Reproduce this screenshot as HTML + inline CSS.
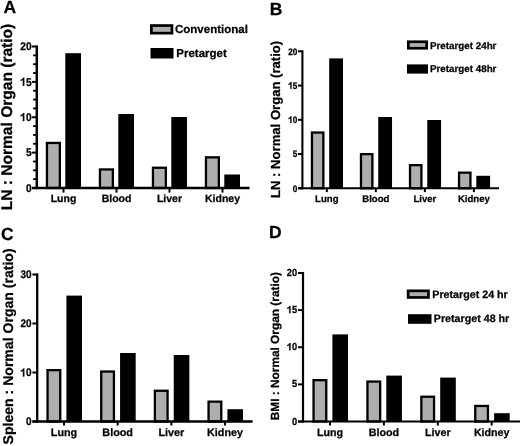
<!DOCTYPE html>
<html><head><meta charset="utf-8"><title>Figure</title>
<style>
html,body{margin:0;padding:0;background:#fff;}
body{width:520px;height:446px;overflow:hidden;}
svg{display:block;filter:blur(0.3px) grayscale(1);font-family:"Liberation Sans",sans-serif;font-weight:bold;}
text{stroke:#000;stroke-width:0.25px;text-rendering:geometricPrecision;}
</style></head>
<body>
<svg width="520" height="446" viewBox="0 0 520 446">
<rect x="0" y="0" width="520" height="446" fill="#fff"/>
<text x="3.6" y="12.6" font-size="17.5" text-anchor="start" >A</text>
<text transform="translate(11.8,117.0) rotate(-90)" font-size="15.5" text-anchor="middle" textLength="186.5" lengthAdjust="spacingAndGlyphs">LN : Normal Organ (ratio)</text>
<rect x="46.95" y="142.95" width="12.90" height="45.05" fill="#aeaeae" stroke="#000" stroke-width="2.3"/>
<rect x="65.30" y="53.20" width="15.70" height="134.80" fill="#000"/>
<line x1="63.5" y1="188.0" x2="63.5" y2="192.6" stroke="#000" stroke-width="2.0"/>
<text x="63.50" y="201.6" font-size="10.5" text-anchor="middle" >Lung</text>
<rect x="99.95" y="169.45" width="12.90" height="18.55" fill="#aeaeae" stroke="#000" stroke-width="2.3"/>
<rect x="118.30" y="114.00" width="15.70" height="74.00" fill="#000"/>
<line x1="116.5" y1="188.0" x2="116.5" y2="192.6" stroke="#000" stroke-width="2.0"/>
<text x="116.50" y="201.6" font-size="10.5" text-anchor="middle" >Blood</text>
<rect x="152.95" y="167.75" width="12.90" height="20.25" fill="#aeaeae" stroke="#000" stroke-width="2.3"/>
<rect x="171.30" y="117.00" width="15.70" height="71.00" fill="#000"/>
<line x1="169.5" y1="188.0" x2="169.5" y2="192.6" stroke="#000" stroke-width="2.0"/>
<text x="169.50" y="201.6" font-size="10.5" text-anchor="middle" >Liver</text>
<rect x="205.95" y="157.35" width="12.90" height="30.65" fill="#aeaeae" stroke="#000" stroke-width="2.3"/>
<rect x="224.30" y="174.50" width="15.70" height="13.50" fill="#000"/>
<line x1="222.5" y1="188.0" x2="222.5" y2="192.6" stroke="#000" stroke-width="2.0"/>
<text x="222.50" y="201.6" font-size="10.5" text-anchor="middle" >Kidney</text>
<line x1="36.8" y1="45.45" x2="36.8" y2="189.15" stroke="#000" stroke-width="2.5"/>
<line x1="32.0" y1="188.0" x2="249.5" y2="188.0" stroke="#000" stroke-width="2.5"/>
<line x1="32.0" y1="188.0" x2="36.8" y2="188.0" stroke="#000" stroke-width="2.0"/>
<g transform="translate(31.60,191.80) scale(1.0,1.1)">
<text x="0" y="0" font-size="10.2" text-anchor="end" >0</text>
</g>
<line x1="32.0" y1="152.625" x2="36.8" y2="152.625" stroke="#000" stroke-width="2.0"/>
<g transform="translate(31.60,156.43) scale(1.0,1.1)">
<text x="0" y="0" font-size="10.2" text-anchor="end" >5</text>
</g>
<line x1="32.0" y1="117.25" x2="36.8" y2="117.25" stroke="#000" stroke-width="2.0"/>
<g transform="translate(31.60,121.05) scale(1.0,1.1)">
<path transform="translate(-11.35,0) scale(0.01020,-0.01020)" d="M393 0L393 716L300 716Q270 650 200 605Q130 560 45 535L45 410Q105 430 160 458Q215 486 253 520L253 0Z" fill="#000" stroke="#000" stroke-width="24.5"/>
<text x="0" y="0" font-size="10.2" text-anchor="end" >0</text>
</g>
<line x1="32.0" y1="81.875" x2="36.8" y2="81.875" stroke="#000" stroke-width="2.0"/>
<g transform="translate(31.60,85.67) scale(1.0,1.1)">
<path transform="translate(-11.35,0) scale(0.01020,-0.01020)" d="M393 0L393 716L300 716Q270 650 200 605Q130 560 45 535L45 410Q105 430 160 458Q215 486 253 520L253 0Z" fill="#000" stroke="#000" stroke-width="24.5"/>
<text x="0" y="0" font-size="10.2" text-anchor="end" >5</text>
</g>
<line x1="32.0" y1="46.5" x2="36.8" y2="46.5" stroke="#000" stroke-width="2.0"/>
<g transform="translate(31.60,50.30) scale(1.0,1.1)">
<text x="0" y="0" font-size="10.2" text-anchor="end" >20</text>
</g>
<line x1="33.0" y1="179.15625" x2="36.8" y2="179.15625" stroke="#000" stroke-width="1.8"/>
<line x1="33.0" y1="170.3125" x2="36.8" y2="170.3125" stroke="#000" stroke-width="1.8"/>
<line x1="33.0" y1="161.46875" x2="36.8" y2="161.46875" stroke="#000" stroke-width="1.8"/>
<line x1="33.0" y1="143.78125" x2="36.8" y2="143.78125" stroke="#000" stroke-width="1.8"/>
<line x1="33.0" y1="134.9375" x2="36.8" y2="134.9375" stroke="#000" stroke-width="1.8"/>
<line x1="33.0" y1="126.09375" x2="36.8" y2="126.09375" stroke="#000" stroke-width="1.8"/>
<line x1="33.0" y1="108.40625" x2="36.8" y2="108.40625" stroke="#000" stroke-width="1.8"/>
<line x1="33.0" y1="99.5625" x2="36.8" y2="99.5625" stroke="#000" stroke-width="1.8"/>
<line x1="33.0" y1="90.71875" x2="36.8" y2="90.71875" stroke="#000" stroke-width="1.8"/>
<line x1="33.0" y1="73.03125" x2="36.8" y2="73.03125" stroke="#000" stroke-width="1.8"/>
<line x1="33.0" y1="64.1875" x2="36.8" y2="64.1875" stroke="#000" stroke-width="1.8"/>
<line x1="33.0" y1="55.34375" x2="36.8" y2="55.34375" stroke="#000" stroke-width="1.8"/>
<rect x="151.35" y="25.55" width="20.60" height="7.60" fill="#aeaeae" stroke="#000" stroke-width="2.7"/>
<text x="175.0" y="33.3" font-size="11.5" text-anchor="start" >Conventional</text>
<rect x="150.5" y="48.0" width="23.00" height="10.50" fill="#000"/>
<text x="176.3" y="57.0" font-size="11.5" text-anchor="start" >Pretarget</text>
<text x="269.8" y="14.9" font-size="17.5" text-anchor="start" >B</text>
<text transform="translate(279.9,119.4) rotate(-90)" font-size="13.1" text-anchor="middle" textLength="157.2" lengthAdjust="spacingAndGlyphs">LN : Normal Organ (ratio)</text>
<rect x="311.95" y="132.55" width="11.40" height="55.75" fill="#aeaeae" stroke="#000" stroke-width="2.3"/>
<rect x="329.20" y="58.40" width="13.80" height="129.90" fill="#000"/>
<line x1="326.8" y1="188.3" x2="326.8" y2="192.10000000000002" stroke="#000" stroke-width="2.0"/>
<text x="326.80" y="201.6" font-size="9.6" text-anchor="middle" >Lung</text>
<rect x="360.98" y="154.15" width="11.40" height="34.15" fill="#aeaeae" stroke="#000" stroke-width="2.3"/>
<rect x="378.23" y="117.00" width="13.80" height="71.30" fill="#000"/>
<line x1="375.83000000000004" y1="188.3" x2="375.83000000000004" y2="192.10000000000002" stroke="#000" stroke-width="2.0"/>
<text x="375.83" y="201.6" font-size="9.6" text-anchor="middle" >Blood</text>
<rect x="410.01" y="165.15" width="11.40" height="23.15" fill="#aeaeae" stroke="#000" stroke-width="2.3"/>
<rect x="427.26" y="120.00" width="13.80" height="68.30" fill="#000"/>
<line x1="424.86" y1="188.3" x2="424.86" y2="192.10000000000002" stroke="#000" stroke-width="2.0"/>
<text x="424.86" y="201.6" font-size="9.6" text-anchor="middle" >Liver</text>
<rect x="459.04" y="172.65" width="11.40" height="15.65" fill="#aeaeae" stroke="#000" stroke-width="2.3"/>
<rect x="476.29" y="175.80" width="13.80" height="12.50" fill="#000"/>
<line x1="473.89" y1="188.3" x2="473.89" y2="192.10000000000002" stroke="#000" stroke-width="2.0"/>
<text x="473.89" y="201.6" font-size="9.6" text-anchor="middle" >Kidney</text>
<line x1="302.4" y1="50.250000000000014" x2="302.4" y2="189.45000000000002" stroke="#000" stroke-width="2.1"/>
<line x1="298.0" y1="188.3" x2="499.0" y2="188.3" stroke="#000" stroke-width="2.1"/>
<line x1="298.0" y1="188.3" x2="302.4" y2="188.3" stroke="#000" stroke-width="2.0"/>
<g transform="translate(297.40,191.50) scale(0.97,1.1)">
<text x="0" y="0" font-size="8.5" text-anchor="end" >0</text>
</g>
<line x1="298.0" y1="154.05" x2="302.4" y2="154.05" stroke="#000" stroke-width="2.0"/>
<g transform="translate(297.40,157.25) scale(0.97,1.1)">
<text x="0" y="0" font-size="8.5" text-anchor="end" >5</text>
</g>
<line x1="298.0" y1="119.80000000000001" x2="302.4" y2="119.80000000000001" stroke="#000" stroke-width="2.0"/>
<g transform="translate(297.40,123.00) scale(0.97,1.1)">
<path transform="translate(-9.45,0) scale(0.00850,-0.00850)" d="M393 0L393 716L300 716Q270 650 200 605Q130 560 45 535L45 410Q105 430 160 458Q215 486 253 520L253 0Z" fill="#000" stroke="#000" stroke-width="29.4"/>
<text x="0" y="0" font-size="8.5" text-anchor="end" >0</text>
</g>
<line x1="298.0" y1="85.55000000000001" x2="302.4" y2="85.55000000000001" stroke="#000" stroke-width="2.0"/>
<g transform="translate(297.40,88.75) scale(0.97,1.1)">
<path transform="translate(-9.45,0) scale(0.00850,-0.00850)" d="M393 0L393 716L300 716Q270 650 200 605Q130 560 45 535L45 410Q105 430 160 458Q215 486 253 520L253 0Z" fill="#000" stroke="#000" stroke-width="29.4"/>
<text x="0" y="0" font-size="8.5" text-anchor="end" >5</text>
</g>
<line x1="298.0" y1="51.30000000000001" x2="302.4" y2="51.30000000000001" stroke="#000" stroke-width="2.0"/>
<g transform="translate(297.40,54.50) scale(0.97,1.1)">
<text x="0" y="0" font-size="8.5" text-anchor="end" >20</text>
</g>
<rect x="408.35" y="41.75" width="18.30" height="6.50" fill="#aeaeae" stroke="#000" stroke-width="2.7"/>
<text x="430.0" y="48.6" font-size="9.8" text-anchor="start" >Pretarget 24hr</text>
<rect x="407.0" y="64.4" width="21.00" height="9.20" fill="#000"/>
<text x="430.0" y="72.4" font-size="9.8" text-anchor="start" >Pretarget 48hr</text>
<text x="0.9" y="239.6" font-size="17.5" text-anchor="start" >C</text>
<text transform="translate(12.7,346.4) rotate(-90)" font-size="14" text-anchor="middle" textLength="196" lengthAdjust="spacingAndGlyphs">Spleen : Normal Organ (ratio)</text>
<rect x="47.55" y="370.15" width="12.70" height="51.35" fill="#aeaeae" stroke="#000" stroke-width="2.3"/>
<rect x="66.40" y="295.60" width="15.60" height="125.90" fill="#000"/>
<line x1="64.0" y1="421.5" x2="64.0" y2="425.5" stroke="#000" stroke-width="2.0"/>
<text x="64.00" y="436.0" font-size="10.8" text-anchor="middle" >Lung</text>
<rect x="101.22" y="371.55" width="12.70" height="49.95" fill="#aeaeae" stroke="#000" stroke-width="2.3"/>
<rect x="120.07" y="353.00" width="15.60" height="68.50" fill="#000"/>
<line x1="117.67" y1="421.5" x2="117.67" y2="425.5" stroke="#000" stroke-width="2.0"/>
<text x="117.67" y="436.0" font-size="10.8" text-anchor="middle" >Blood</text>
<rect x="154.89" y="390.75" width="12.70" height="30.75" fill="#aeaeae" stroke="#000" stroke-width="2.3"/>
<rect x="173.74" y="355.00" width="15.60" height="66.50" fill="#000"/>
<line x1="171.34" y1="421.5" x2="171.34" y2="425.5" stroke="#000" stroke-width="2.0"/>
<text x="171.34" y="436.0" font-size="10.8" text-anchor="middle" >Liver</text>
<rect x="208.56" y="401.65" width="12.70" height="19.85" fill="#aeaeae" stroke="#000" stroke-width="2.3"/>
<rect x="227.41" y="409.20" width="15.60" height="12.30" fill="#000"/>
<line x1="225.01" y1="421.5" x2="225.01" y2="425.5" stroke="#000" stroke-width="2.0"/>
<text x="225.01" y="436.0" font-size="10.8" text-anchor="middle" >Kidney</text>
<line x1="37.2" y1="273.45000000000005" x2="37.2" y2="422.65" stroke="#000" stroke-width="2.3"/>
<line x1="32.4" y1="421.5" x2="252.6" y2="421.5" stroke="#000" stroke-width="2.3"/>
<line x1="32.4" y1="421.5" x2="37.2" y2="421.5" stroke="#000" stroke-width="2.0"/>
<g transform="translate(31.50,425.40) scale(1.0,1.1)">
<text x="0" y="0" font-size="10.0" text-anchor="end" >0</text>
</g>
<line x1="32.4" y1="372.5" x2="37.2" y2="372.5" stroke="#000" stroke-width="2.0"/>
<g transform="translate(31.50,376.40) scale(1.0,1.1)">
<path transform="translate(-11.12,0) scale(0.01000,-0.01000)" d="M393 0L393 716L300 716Q270 650 200 605Q130 560 45 535L45 410Q105 430 160 458Q215 486 253 520L253 0Z" fill="#000" stroke="#000" stroke-width="25.0"/>
<text x="0" y="0" font-size="10.0" text-anchor="end" >0</text>
</g>
<line x1="32.4" y1="323.5" x2="37.2" y2="323.5" stroke="#000" stroke-width="2.0"/>
<g transform="translate(31.50,327.40) scale(1.0,1.1)">
<text x="0" y="0" font-size="10.0" text-anchor="end" >20</text>
</g>
<line x1="32.4" y1="274.5" x2="37.2" y2="274.5" stroke="#000" stroke-width="2.0"/>
<g transform="translate(31.50,278.40) scale(1.0,1.1)">
<text x="0" y="0" font-size="10.0" text-anchor="end" >30</text>
</g>
<text x="269.0" y="237.9" font-size="17.5" text-anchor="start" >D</text>
<text transform="translate(279.0,346.2) rotate(-90)" font-size="11.8" text-anchor="middle" textLength="148.2" lengthAdjust="spacingAndGlyphs">BMI : Normal Organ (ratio)</text>
<rect x="313.55" y="380.15" width="12.70" height="41.35" fill="#aeaeae" stroke="#000" stroke-width="2.3"/>
<rect x="332.40" y="334.40" width="15.60" height="87.10" fill="#000"/>
<line x1="330.0" y1="421.5" x2="330.0" y2="425.5" stroke="#000" stroke-width="2.0"/>
<text x="330.00" y="436.0" font-size="10.7" text-anchor="middle" >Lung</text>
<rect x="367.45" y="381.55" width="12.70" height="39.95" fill="#aeaeae" stroke="#000" stroke-width="2.3"/>
<rect x="386.30" y="375.60" width="15.60" height="45.90" fill="#000"/>
<line x1="383.9" y1="421.5" x2="383.9" y2="425.5" stroke="#000" stroke-width="2.0"/>
<text x="383.90" y="436.0" font-size="10.7" text-anchor="middle" >Blood</text>
<rect x="421.35" y="396.75" width="12.70" height="24.75" fill="#aeaeae" stroke="#000" stroke-width="2.3"/>
<rect x="440.20" y="377.60" width="15.60" height="43.90" fill="#000"/>
<line x1="437.8" y1="421.5" x2="437.8" y2="425.5" stroke="#000" stroke-width="2.0"/>
<text x="437.80" y="436.0" font-size="10.7" text-anchor="middle" >Liver</text>
<rect x="475.25" y="405.95" width="12.70" height="15.55" fill="#aeaeae" stroke="#000" stroke-width="2.3"/>
<rect x="494.10" y="413.20" width="15.60" height="8.30" fill="#000"/>
<line x1="491.7" y1="421.5" x2="491.7" y2="425.5" stroke="#000" stroke-width="2.0"/>
<text x="491.70" y="436.0" font-size="10.7" text-anchor="middle" >Kidney</text>
<line x1="303.0" y1="271.95000000000005" x2="303.0" y2="422.65" stroke="#000" stroke-width="2.2"/>
<line x1="298.0" y1="421.5" x2="520.0" y2="421.5" stroke="#000" stroke-width="2.2"/>
<line x1="298.0" y1="421.5" x2="303.0" y2="421.5" stroke="#000" stroke-width="2.0"/>
<g transform="translate(297.20,424.60) scale(1.0,1.1)">
<text x="0" y="0" font-size="9.3" text-anchor="end" >0</text>
</g>
<line x1="298.0" y1="384.375" x2="303.0" y2="384.375" stroke="#000" stroke-width="2.0"/>
<g transform="translate(297.20,387.48) scale(1.0,1.1)">
<text x="0" y="0" font-size="9.3" text-anchor="end" >5</text>
</g>
<line x1="298.0" y1="347.25" x2="303.0" y2="347.25" stroke="#000" stroke-width="2.0"/>
<g transform="translate(297.20,350.35) scale(1.0,1.1)">
<path transform="translate(-10.34,0) scale(0.00930,-0.00930)" d="M393 0L393 716L300 716Q270 650 200 605Q130 560 45 535L45 410Q105 430 160 458Q215 486 253 520L253 0Z" fill="#000" stroke="#000" stroke-width="26.9"/>
<text x="0" y="0" font-size="9.3" text-anchor="end" >0</text>
</g>
<line x1="298.0" y1="310.125" x2="303.0" y2="310.125" stroke="#000" stroke-width="2.0"/>
<g transform="translate(297.20,313.23) scale(1.0,1.1)">
<path transform="translate(-10.34,0) scale(0.00930,-0.00930)" d="M393 0L393 716L300 716Q270 650 200 605Q130 560 45 535L45 410Q105 430 160 458Q215 486 253 520L253 0Z" fill="#000" stroke="#000" stroke-width="26.9"/>
<text x="0" y="0" font-size="9.3" text-anchor="end" >5</text>
</g>
<line x1="298.0" y1="273.0" x2="303.0" y2="273.0" stroke="#000" stroke-width="2.0"/>
<g transform="translate(297.20,276.10) scale(1.0,1.1)">
<text x="0" y="0" font-size="9.3" text-anchor="end" >20</text>
</g>
<rect x="408.15" y="290.85" width="20.30" height="6.60" fill="#aeaeae" stroke="#000" stroke-width="2.7"/>
<text x="432.3" y="298.0" font-size="10.7" text-anchor="start" >Pretarget 24 hr</text>
<rect x="408.0" y="314.2" width="23.50" height="9.60" fill="#000"/>
<text x="433.8" y="322.3" font-size="10.7" text-anchor="start" >Pretarget 48 hr</text>
</svg>
</body></html>
